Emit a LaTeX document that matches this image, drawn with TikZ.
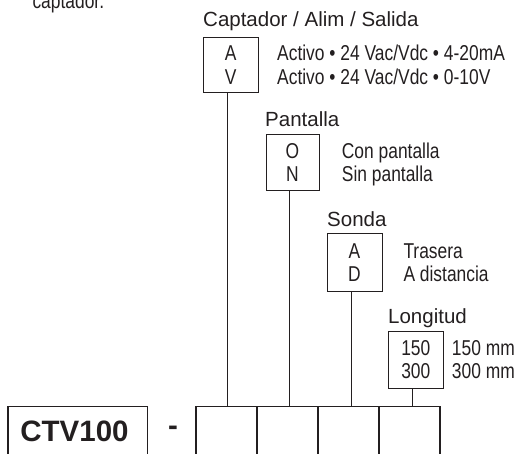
\documentclass[tikz,border=0pt]{standalone}
\usepackage{fontspec}
\setmainfont{Liberation Sans}
\newfontfamily\condf[FakeStretch=0.81]{Liberation Sans}
\definecolor{ink}{HTML}{231F20}
\begin{document}
\begin{tikzpicture}[x=1pt,y=-1pt,
  head/.style={anchor=base west, inner sep=0pt, text=ink, font=\fontsize{20.5}{20.5}\selectfont},
  desc/.style={anchor=base west, inner sep=0pt, text=ink, font=\condf\fontsize{21.5}{21.5}\selectfont},
  code/.style={anchor=base, inner sep=0pt, text=ink, font=\condf\fontsize{21.5}{21.5}\selectfont},
  optbox/.style={draw=ink, line width=1.1pt, minimum width=55pt, inner sep=0pt, anchor=north west},
  cell/.style={draw=ink, line width=1.6pt, minimum width=61pt, minimum height=70pt, inner sep=0pt, anchor=north west},
  wire/.style={draw=ink, line width=0.9pt},
  big/.style={anchor=base, inner sep=0pt, text=ink, font=\bfseries\fontsize{29.5}{29.5}\selectfont}]
\useasboundingbox (0,0) rectangle (520,454);

% cut-off note at the top
\node[desc] (note) at (32.3,8.3) {captador.};

% headings
\node[head] (h1) at (203,27) {Captador / Alim / Salida};
\node[head] (h2) at (265,127) {Pantalla};
\node[head] (h3) at (327,226.5) {Sonda};
\node[head] (h4) at (388,323.5) {Longitud};

% option boxes
\node[optbox, minimum height=55pt] (b1) at (203.3,37) {};
\node[optbox, minimum height=56pt, minimum width=53.5pt] (b2) at (265.7,134) {};
\node[optbox, minimum height=58pt, minimum width=54.5pt] (b3) at (327.3,232.7) {};
\node[optbox, minimum height=57pt] (b4) at (388.3,330.7) {};

% codes inside boxes
\node[code] (a1) at (230.8,61) {A};
\node[code] (a2) at (230.8,84.5) {V};
\node[code] (o1) at (292.4,158.5) {O};
\node[code] (o2) at (292.4,182) {N};
\node[code] (s1) at (354.5,258.2) {A};
\node[code] (s2) at (354.5,281.7) {D};
\node[code] (l1) at (415.8,355.5) {150};
\node[code] (l2) at (415.8,379) {300};

% descriptions
\node[desc] (d11) at (277,61) {Activo • 24 Vac/Vdc • 4-20mA};
\node[desc] (d12) at (277,84.5) {Activo • 24 Vac/Vdc • 0-10V};
\node[desc] (d21) at (341.7,158.5) {Con pantalla};
\node[desc] (d22) at (341.7,182) {Sin pantalla};
\node[desc] (d31) at (403.3,258.2) {Trasera};
\node[desc] (d32) at (403.3,281.7) {A distancia};
\node[desc] (d41) at (451.7,355.5) {150 mm};
\node[desc] (d42) at (451.7,379) {300 mm};

% bottom row
\node[draw=ink, line width=1.3pt, minimum width=139.4pt, minimum height=70pt, inner sep=0pt, anchor=north west] (ctv) at (7.3,405.7) {};
\node[big] (ctvt) at (74.5,441.7) {CTV100};
\node[big] (dash) at (173,436) {-};
\node[cell] (k1) at (195,405.7) {};
\node[cell] (k2) at (256,405.7) {};
\node[cell] (k3) at (317,405.7) {};
\node[cell] (k4) at (378,405.7) {};

% connectors
\coordinate (c1) at (227.7,405.7);
\coordinate (c2) at (289,405.7);
\coordinate (c3) at (351,405.7);
\coordinate (c4) at (412.5,405.7);
\draw[wire] (b1.south -| c1) -- (c1);
\draw[wire] (b2.south -| c2) -- (c2);
\draw[wire] (b3.south -| c3) -- (c3);
\draw[wire] (b4.south -| c4) -- (c4);
\end{tikzpicture}
\end{document}
